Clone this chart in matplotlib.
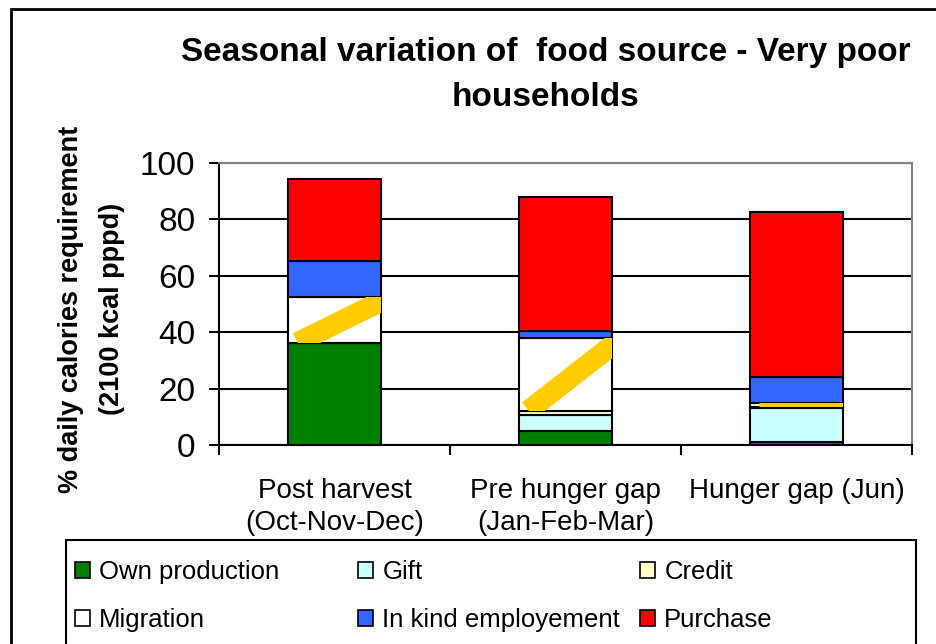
import numpy as np
import matplotlib
matplotlib.use("Agg")
import matplotlib.pyplot as plt
from matplotlib.patches import Patch, Rectangle

# data (% of 2100 kcal pppd)
periods = ["Post harvest\n(Oct-Nov-Dec)", "Pre hunger gap\n(Jan-Feb-Mar)", "Hunger gap (Jun)"]
own_production = [36.3, 5.0, 1.0]
gift = [0.0, 5.5, 12.0]
credit = [0.0, 1.7, 0.5]
migration = [16.2, 25.6, 1.3]
in_kind = [12.7, 2.7, 9.4]
purchase = [29.1, 47.5, 58.3]

sources = ["Own production", "Gift", "Credit", "Migration", "In kind employement", "Purchase"]
colors = ["#008000", "#ccffff", "#ffffcc", "#ffffff", "#3366ff", "#ff0000"]
series = [own_production, gift, credit, migration, in_kind, purchase]

narrow = ["Liberation Sans Narrow", "Liberation Sans", "DejaVu Sans"]
bold = ["Liberation Sans", "DejaVu Sans"]

fig = plt.figure(figsize=(9.36, 6.44), dpi=100)
ax = fig.add_axes([219/936, 1-445/644, (912-219)/936, (445-163)/644])

x = np.arange(len(periods))
width = 0.40
bottom = np.zeros(len(periods))
bar_sets = []
for vals, col in zip(series, colors):
    bars = ax.bar(x, vals, width, bottom=bottom, color=col, edgecolor="black",
                  linewidth=1.5, zorder=3)
    bar_sets.append(bars)
    bottom = bottom + np.array(vals)

# gold diagonal stripe inside the migration segments
for b in bar_sets[3]:
    x0, y0 = b.get_x(), b.get_y()
    ln, = ax.plot([x0 + 0.1*b.get_width(), x0 + 1.1*b.get_width()],
                  [y0, y0 + b.get_height()],
                  color="#ffcc00", linewidth=15, solid_capstyle="butt", zorder=3.5)
    ln.set_clip_path(b)

ax.set_xlim(-0.5, 2.5)
ax.set_ylim(0, 100)
ax.set_yticks([0, 20, 40, 60, 80, 100])
ax.yaxis.grid(True, color="black", linewidth=1.5, zorder=0)
ax.set_xticks(x)
ax.set_xticklabels(periods, family=narrow, fontsize=20, linespacing=1.3)
ax.set_xticks(np.arange(-0.5, 3, 1), minor=True)
ax.tick_params(axis="x", which="major", length=0, pad=24)
ax.tick_params(axis="x", which="minor", length=7, width=1.5, direction="out")
ax.tick_params(axis="y", length=7, width=1.5, direction="out", pad=10)
for lab in ax.get_yticklabels():
    lab.set_family(narrow)
    lab.set_fontsize(24)

ax.spines["left"].set_linewidth(1.5)
ax.spines["bottom"].set_linewidth(1.5)
ax.spines["top"].set_color("#808080")
ax.spines["right"].set_color("#808080")
ax.spines["top"].set_linewidth(1.5)
ax.spines["right"].set_linewidth(1.5)

fig.text(0.583, 0.884, "Seasonal variation of  food source - Very poor\nhouseholds",
         ha="center", va="center", fontsize=24, fontweight="bold", family=bold,
         linespacing=1.6)
fig.text(0.098, 0.52, "% daily calories requirement\n(2100 kcal pppd)", rotation=90,
         ha="center", va="center", fontsize=19.5, fontweight="bold", family=bold,
         linespacing=1.75)

# legend: three columns, each placed like in the chart
col_x = [62, 345, 627]
for c in range(3):
    handles = [Patch(facecolor=colors[i], edgecolor="black", linewidth=1.2, label=sources[i])
               for i in (c, c + 3)]
    fig.legend(handles=handles, loc="upper left", bbox_to_anchor=(col_x[c]/936, 1-547/644),
               prop={"family": narrow, "size": 18.5}, frameon=False,
               handlelength=0.6, handleheight=0.6, handletextpad=0.35,
               borderpad=0.5, labelspacing=0.95, borderaxespad=0)

fig.patches.append(Rectangle((66/936, -0.1), (916-66)/936, 0.1 + 1 - 540/644,
                             transform=fig.transFigure, fill=False,
                             edgecolor="black", linewidth=1.5))
fig.patches.append(Rectangle((11/936, -0.1), 1.2, 1.1 - 9/644, transform=fig.transFigure,
                             fill=False, edgecolor="black", linewidth=2))

fig.savefig("out.png", dpi=100)
